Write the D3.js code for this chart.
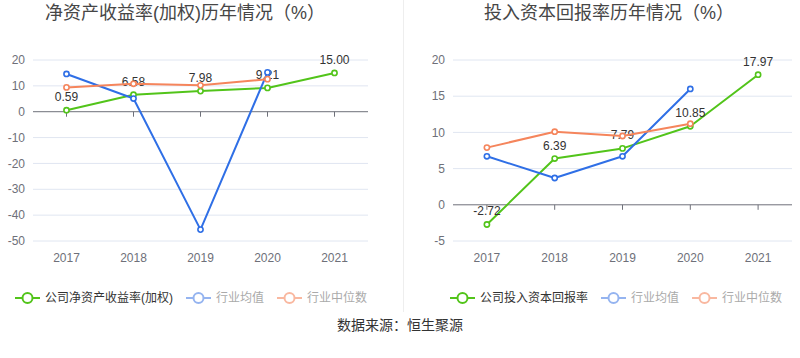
<!DOCTYPE html>
<html><head><meta charset="utf-8">
<script src="https://cdn.jsdelivr.net/npm/d3@7/dist/d3.min.js"></script>
<style>body{margin:0;background:#fff}svg{display:block;font-family:"Liberation Sans",Arial,"Noto Sans CJK SC",sans-serif}</style>
</head><body><svg id="c" width="800" height="358"></svg>
<script>
const years = ["2017","2018","2019","2020","2021"];
const roeCompany = [0.59, 6.58, 7.98, 9.21, 15.00];
const roeAvg = [14.6, 5.1, -45.6, 15.2, null];
const roeMedian = [9.4, 10.8, 10.2, 12.6, null];
const roicCompany = [-2.72, 6.39, 7.79, 10.85, 17.97];
const roicAvg = [6.7, 3.7, 6.7, 16.0, null];
const roicMedian = [7.9, 10.1, 9.5, 11.2, null];
const roeTicks = [-50, -40, -30, -20, -10, 0, 10, 20];
const roicTicks = [-5, 0, 5, 10, 15, 20];
const titles = ["净资产收益率(加权)历年情况（%）", "投入资本回报率历年情况（%）"];
const legendNames = [["公司净资产收益率(加权)", "行业均值", "行业中位数"], ["公司投入资本回报率", "行业均值", "行业中位数"]];

const GREEN = "#52c41a", BLUE = "#2f6fe6", ORANGE = "#f5855c";
const svg = d3.select("#c");

function chart(cfg) {
  const x = d3.scaleBand().domain(years).range(cfg.xr);
  const y = d3.scaleLinear().domain(cfg.dom).range([241, 60]);
  const g = svg.append("g");
  const cx = d => x(d) + x.bandwidth() / 2;
  // grid
  g.selectAll(".grid").data(cfg.ticks.filter(t => t !== 0)).enter().append("line")
    .attr("x1", cfg.xr[0]).attr("x2", cfg.xr[1]).attr("y1", d => y(d)).attr("y2", d => y(d))
    .attr("stroke", "#e0e6f1").attr("stroke-width", 1);
  // y labels
  g.selectAll(".yl").data(cfg.ticks).enter().append("text")
    .attr("x", cfg.xr[0] - 8).attr("y", d => y(d)).attr("dy", "0.35em")
    .attr("text-anchor", "end").attr("font-size", 12).attr("fill", "#6e7079").text(d => d);
  // zero axis
  g.append("line").attr("x1", cfg.xr[0]).attr("x2", cfg.xr[1]).attr("y1", y(0)).attr("y2", y(0))
    .attr("stroke", "#6e7079").attr("stroke-width", 1);
  g.selectAll(".tk").data(years).enter().append("line")
    .attr("x1", d => cx(d)).attr("x2", d => cx(d)).attr("y1", y(0)).attr("y2", y(0) + 5)
    .attr("stroke", "#6e7079");
  g.selectAll(".xl").data(years).enter().append("text")
    .attr("x", d => cx(d)).attr("y", 258).attr("dy", "0.35em")
    .attr("text-anchor", "middle").attr("font-size", 12).attr("fill", "#6e7079").text(d => d);
  // title
  svg.append("text").attr("x", cfg.tx).attr("y", 19).attr("text-anchor", "middle")
    .attr("font-size", 18).attr("fill", "#464646").text(cfg.title);

  function series(vals, color, labels) {
    const pts = years.map((yr, i) => ({yr, v: vals[i]})).filter(p => p.v !== null);
    const line = d3.line().x(p => cx(p.yr)).y(p => y(p.v));
    g.append("path").datum(pts).attr("d", line).attr("fill", "none")
      .attr("stroke", color).attr("stroke-width", 2).attr("stroke-linejoin", "round");
    g.selectAll(null).data(pts).enter().append("circle")
      .attr("cx", p => cx(p.yr)).attr("cy", p => y(p.v)).attr("r", 2.6)
      .attr("fill", "#fff").attr("stroke", color).attr("stroke-width", 1.6);
    if (labels) {
      g.selectAll(null).data(pts).enter().append("text")
        .attr("x", p => cx(p.yr)).attr("y", p => y(p.v) - 9)
        .attr("text-anchor", "middle").attr("font-size", 12).attr("fill", "#333")
        .text(p => p.v.toFixed(2));
    }
  }
  series(cfg.company, GREEN, true);
  series(cfg.avg, BLUE, false);
  series(cfg.median, ORANGE, false);

  // legend
  const lg = [
    {name: cfg.legend[0], color: GREEN, tcol: "#333"},
    {name: cfg.legend[1], color: "#95b4f0", tcol: "#aaa"},
    {name: cfg.legend[2], color: "#f9b8a0", tcol: "#aaa"}
  ];
  let lx = cfg.lx;
  lg.forEach((it, i) => {
    const gg = svg.append("g");
    gg.append("line").attr("x1", lx).attr("x2", lx + 25).attr("y1", 298).attr("y2", 298)
      .attr("stroke", it.color).attr("stroke-width", 2);
    gg.append("circle").attr("cx", lx + 12.5).attr("cy", 298).attr("r", 5)
      .attr("fill", "#fff").attr("stroke", it.color).attr("stroke-width", 2);
    const t = gg.append("text").attr("x", lx + 30).attr("y", 298).attr("dy", "0.35em")
      .attr("font-size", 12).attr("fill", it.tcol).text(it.name);
    lx = lx + 30 + t.node().getComputedTextLength() + 13;
  });
}

chart({xr: [33, 368], dom: [-50, 20], ticks: roeTicks, company: roeCompany, avg: roeAvg, median: roeMedian,
  title: titles[0], tx: 185, legend: legendNames[0], lx: 15});
chart({xr: [453, 792], dom: [-5, 20], ticks: roicTicks, company: roicCompany, avg: roicAvg, median: roicMedian,
  title: titles[1], tx: 609, legend: legendNames[1], lx: 450});

svg.append("line").attr("x1", 403.5).attr("x2", 403.5).attr("y1", 0).attr("y2", 312)
  .attr("stroke", "#eee").attr("stroke-width", 1);
svg.append("text").attr("x", 400).attr("y", 325).attr("dy", "0.35em").attr("text-anchor", "middle")
  .attr("font-size", 14).attr("fill", "#333").text("数据来源：恒生聚源");
</script></body></html>
